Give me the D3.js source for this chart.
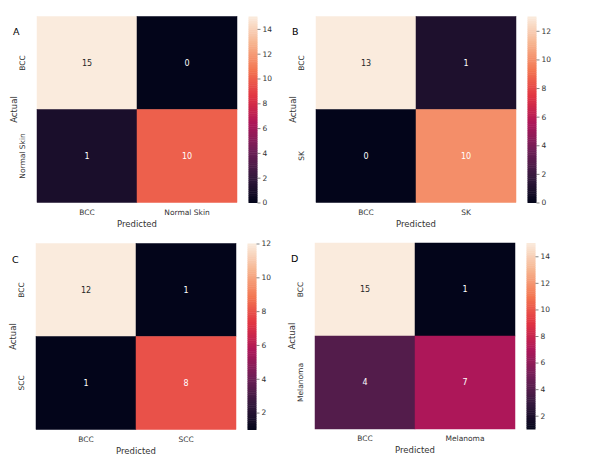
<!DOCTYPE html>
<html>
<head>
<meta charset="utf-8">
<script src="https://cdn.jsdelivr.net/npm/d3@7"></script>
<style>
  body { margin: 0; background: #fff; }
  text { font-family: "DejaVu Sans", sans-serif; }
</style>
</head>
<body>
<div id="chart"></div>
<script>
// panel data
var panelLetters = ["A", "B", "C", "D"];
var classLabels = [
    ["BCC", "Normal Skin"],
    ["BCC", "SK"],
    ["BCC", "SCC"],
    ["BCC", "Melanoma"]
];
var matrixA = [[15, 0], [1, 10]];
var matrixB = [[13, 1], [0, 10]];
var matrixC = [[12, 1], [1, 8]];
var matrixD = [[15, 1], [4, 7]];
var matrices = [matrixA, matrixB, matrixC, matrixD];

// seaborn "rocket" colormap stops
var rocketStops = ["#03051a", "#35193e", "#701f57", "#ad1759", "#e13342", "#f37651", "#f6b48f", "#faebdd"];
var rocket = d3.scaleLinear()
    .domain(rocketStops.map(function (d, i) { return i / (rocketStops.length - 1); }))
    .range(rocketStops)
    .interpolate(d3.interpolateRgb);

var W = 599, H = 470;
var cellW = 100, cellH = 93;
var origins = [[37, 16.5], [316, 16.5], [36, 243.5], [315, 243]];

var svg = d3.select("#chart").append("svg")
    .attr("width", W)
    .attr("height", H);

function luminance(c) {
    var rgb = d3.rgb(c);
    var ch = [rgb.r, rgb.g, rgb.b].map(function (v) {
        v = v / 255;
        return v <= 0.03928 ? v / 12.92 : Math.pow((v + 0.055) / 1.055, 2.4);
    });
    return 0.2126 * ch[0] + 0.7152 * ch[1] + 0.0722 * ch[2];
}

matrices.forEach(function (m, p) {
    var labels = classLabels[p];
    var flat = [];
    m.forEach(function (row, i) {
        row.forEach(function (v, j) {
            flat.push({ actual: labels[i], predicted: labels[j], value: v });
        });
    });
    var ext = d3.extent(flat, function (d) { return d.value; });
    var norm = d3.scaleLinear().domain(ext).range([0, 1]);

    var g = svg.append("g")
        .attr("transform", "translate(" + origins[p][0] + "," + origins[p][1] + ")");

    var x = d3.scaleBand().domain(labels).range([0, cellW * 2]);
    var y = d3.scaleBand().domain(labels).range([0, cellH * 2]);

    g.selectAll("rect.cell")
        .data(flat)
        .enter().append("rect")
        .attr("class", "cell")
        .attr("x", function (d) { return x(d.predicted); })
        .attr("y", function (d) { return y(d.actual); })
        .attr("width", x.bandwidth())
        .attr("height", y.bandwidth())
        .attr("fill", function (d) { return rocket(norm(d.value)); })
        .attr("stroke", function (d) { return rocket(norm(d.value)); })
        .attr("stroke-width", 0.5);

    g.selectAll("text.annot")
        .data(flat)
        .enter().append("text")
        .attr("class", "annot")
        .attr("x", function (d) { return x(d.predicted) + x.bandwidth() / 2; })
        .attr("y", function (d) { return y(d.actual) + y.bandwidth() / 2; })
        .attr("dy", "0.35em")
        .attr("text-anchor", "middle")
        .attr("font-size", "8px")
        .attr("fill", function (d) {
            return luminance(rocket(norm(d.value))) > 0.408 ? "#262626" : "#ffffff";
        })
        .text(function (d) { return d.value; });

    // axis-x
    var xAxis = g.append("g")
        .attr("transform", "translate(0," + cellH * 2 + ")")
        .call(d3.axisBottom(x).tickSize(0).tickPadding(7));
    xAxis.select(".domain").remove();
    xAxis.selectAll("text").attr("font-size", "7.5px").attr("fill", "#333").style("font-family", "DejaVu Sans");

    // axis-y
    var yAxis = g.append("g")
        .call(d3.axisLeft(y).tickSize(0).tickPadding(9));
    yAxis.select(".domain").remove();
    yAxis.selectAll("text")
        .attr("font-size", "7.5px")
        .attr("fill", "#333")
        .style("font-family", "DejaVu Sans")
        .attr("text-anchor", "middle")
        .attr("dy", "0")
        .attr("transform", function () {
            var t = d3.select(this);
            return "translate(-12,0) rotate(-90)";
        })
        .attr("x", 0);

    g.append("text")
        .attr("x", cellW)
        .attr("y", cellH * 2 + 24)
        .attr("text-anchor", "middle")
        .attr("font-size", "8.5px")
        .attr("fill", "#333")
        .text("Predicted");

    g.append("text")
        .attr("transform", "translate(-20," + cellH + ") rotate(-90)")
        .attr("text-anchor", "middle")
        .attr("font-size", "8.5px")
        .attr("fill", "#333")
        .text("Actual");

    g.append("text")
        .attr("x", -24)
        .attr("y", p < 2 ? 18.5 : 19)
        .attr("font-size", "9.5px")
        .attr("fill", "#000")
        .text(panelLetters[p]);

    // colorbar
    var cbX = cellW * 2 + 11.5, cbW = 9;
    var cbScale = d3.scaleLinear().domain(ext).range([cellH * 2, 0]);
    var cb = g.append("g").attr("transform", "translate(" + cbX + ",0)");
    var steps = d3.range(0, 100);
    cb.selectAll("rect")
        .data(steps)
        .enter().append("rect")
        .attr("x", 0)
        .attr("width", cbW)
        .attr("y", function (s) { return cellH * 2 - (s + 1) * cellH * 2 / 100; })
        .attr("height", cellH * 2 / 100 + 0.5)
        .attr("fill", function (s) { return rocket((s + 0.5) / 100); });

    var cbAxis = cb.append("g")
        .attr("transform", "translate(" + cbW + ",0)")
        .call(d3.axisRight(cbScale).ticks(7).tickSize(3).tickPadding(2));
    cbAxis.select(".domain").remove();
    cbAxis.selectAll("line").attr("stroke", "#333").attr("stroke-width", 0.6);
    cbAxis.selectAll("text").attr("font-size", "7.5px").attr("fill", "#333").style("font-family", "DejaVu Sans");
});
</script>
</body>
</html>
